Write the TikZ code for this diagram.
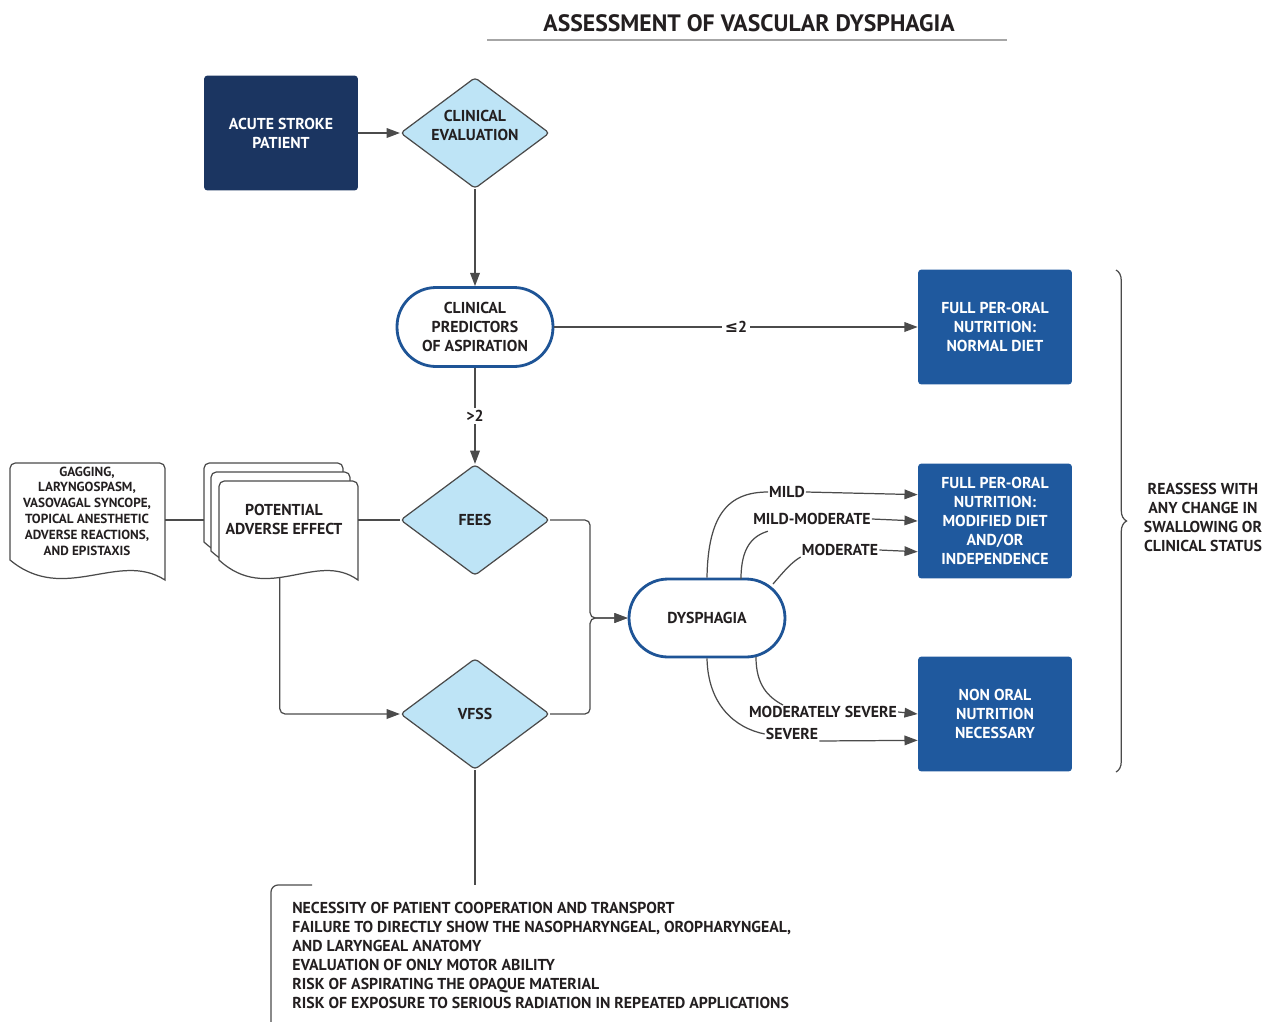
\documentclass[tikz,border=0pt]{standalone}
\usepackage{fontspec}
\setmainfont{PT Sans}
\newfontfamily\symfont{DejaVu Sans}
\usetikzlibrary{shapes.geometric,arrows.meta,decorations.pathreplacing}
\definecolor{navy}{RGB}{27,53,97}
\definecolor{boxblue}{RGB}{31,89,158}
\definecolor{pale}{RGB}{190,228,246}
\definecolor{rim}{RGB}{30,84,150}
\definecolor{ink}{RGB}{35,31,32}
\definecolor{wire}{RGB}{75,75,75}
\tikzset{
  docline/.style={draw=wire,line width=0.7pt,fill=white},
  pics/docshape/.style args={#1/#2}{code={
    \draw[docline] (0,#2-20) {[rounded corners=3pt] -- (0,0) -- (#1,0)} -- (#1,#2)
      .. controls (0.7*#1,#2-30) and (0.35*#1,#2+25) .. (0,#2-20) coordinate[pos=.58] (-s) -- cycle;
    \coordinate (-nw) at (0,0);
    \coordinate (-ne) at (#1,0);
  }}
}
\begin{document}
\begin{tikzpicture}[x=0.02cm,y=-0.02cm,>={Triangle[length=7.5pt,width=5.5pt]},
  every node/.style={font=\bfseries\fontsize{9}{10.8}\selectfont,text=ink},
  start/.style={rectangle,rounded corners=2pt,fill=navy,text=white,minimum width=3.08cm,minimum height=2.3cm,align=center},
  outcome/.style={rectangle,rounded corners=2pt,fill=boxblue,text=white,minimum width=3.08cm,minimum height=2.3cm,align=center},
  decision/.style={diamond,aspect=1.34,draw=wire,line width=0.7pt,fill=pale,rounded corners=2pt,minimum width=2.98cm,minimum height=2.22cm,inner sep=0pt,align=center},
  stadium/.style={rectangle,rounded corners=0.78cm,draw=rim,line width=1.6pt,fill=white,minimum width=3.12cm,minimum height=1.58cm,align=center},
  lbl/.style={fill=white,inner sep=1.5pt},
  grade/.style={inner sep=0.5pt},
  link/.style={draw=wire,line width=0.7pt}]
\useasboundingbox (0,0) rectangle (1276,1022);
\node (title) at (749,23) {\fontsize{13.5}{16}\selectfont ASSESSMENT OF VASCULAR DYSPHAGIA};
\draw[draw=gray!70,line width=1.1pt] (487,40) -- (1007,40);

\node[start] (asp) at (281,133) {ACUTE STROKE\\PATIENT};
\node[decision,text depth=9pt] (ce) at (475,133) {CLINICAL\\EVALUATION};
\node[stadium] (cpa) at (475,327) {CLINICAL\\PREDICTORS\\OF ASPIRATION};
\node[outcome] (nd) at (995,327) {FULL PER-ORAL\\NUTRITION:\\NORMAL DIET};
\node[decision] (fees) at (475,520) {FEES};
\node[decision] (vfss) at (475,714) {VFSS};
\node[stadium,minimum height=1.56cm] (dys) at (707,618) {DYSPHAGIA};
\node[outcome] (mod) at (995,521) {FULL PER-ORAL\\NUTRITION:\\MODIFIED DIET\\AND/OR\\INDEPENDENCE};
\node[outcome] (non) at (995,714) {NON ORAL\\NUTRITION\\NECESSARY};

\pic (gagdoc) at (10,463) {docshape=155/117};
\node[align=center,font=\bfseries\fontsize{7.5}{9}\selectfont] (gag) at (87,511)
  {GAGGING,\\LARYNGOSPASM,\\VASOVAGAL SYNCOPE,\\TOPICAL ANESTHETIC\\ADVERSE REACTIONS,\\AND EPISTAXIS};
\pic (pae1) at (204,463) {docshape=139/99};
\pic (pae2) at (211,472) {docshape=139/99};
\pic (pae3) at (219,481) {docshape=139/99};
\node[align=center] (pae) at (284,519) {POTENTIAL\\ADVERSE EFFECT};

\draw[link,->] (asp) -- (ce);
\draw[link,->] (ce) -- (cpa);
\draw[link,->] (cpa) -- node[lbl] {{\symfont\bfseries ≤}2} (nd);
\draw[link,->] (cpa) -- node[lbl] {>2} (fees);
\draw[link] (gagdoc-ne |- fees) -- (pae1-nw |- fees);
\draw[link] (pae3-ne |- fees) -- (fees.west);
\draw[link,->,rounded corners=3pt] (pae3-s) |- (vfss.west);
\draw[link,->,rounded corners=3pt] (fees.east) -- ++(40,0) |- (dys.west);
\draw[link,->,rounded corners=3pt] (vfss.east) -- ++(40,0) |- (dys.west);

\node[grade] (mild) at (787,492) {MILD};
\node[grade] (mm) at (812,519) {MILD-MODERATE};
\node[grade] (mo) at (840,550) {MODERATE};
\node[grade] (ms) at (823,712) {MODERATELY SEVERE};
\node[grade] (sev) at (792,734) {SEVERE};
\coordinate (d2) at (741,579);
\coordinate (d3) at (773,584);
\coordinate (d4) at (756,657);
\draw[link] (dys.north) .. controls (708,515) and (728,492) .. (mild.west);
\draw[link] (d2) .. controls (741,548) and (752,536) .. ([xshift=9pt,yshift=-3pt]mm.south west);
\draw[link] (d3) .. controls (785,570) and (792,562) .. (mo.south west);
\draw[link] (d4) .. controls (756,685) and (768,697) .. ([xshift=20pt]ms.north west);
\draw[link] (dys.south) .. controls (708,705) and (735,728) .. (sev.west);
\draw[link,->] (mild.east) -- ([yshift=15pt]mod.west);
\draw[link,->] (mm.east) -- (mod.west);
\draw[link,->] (mo.east) -- ([yshift=-17.5pt]mod.west);
\draw[link,->] (ms.east) -- (non.west);
\draw[link,->] (sev.south east) -- ([yshift=-15pt]non.west);

\draw[link,decorate,decoration={brace,amplitude=6pt}] (1116,270) -- (1116,772);
\node[align=center] (re) at (1203,517) {REASSESS WITH\\ANY CHANGE IN\\SWALLOWING OR\\CLINICAL STATUS};

\coordinate (lim) at (475,885);
\draw[link] (vfss.south) -- (lim);
\draw[link,rounded corners=4pt] (312,885) -- (271,885) -- (271,1022);
\node[anchor=north west,align=left,inner sep=0pt] (cons) at (292,902)
  {NECESSITY OF PATIENT COOPERATION AND TRANSPORT\\
   FAILURE TO DIRECTLY SHOW THE NASOPHARYNGEAL, OROPHARYNGEAL,\\
   AND LARYNGEAL ANATOMY\\
   EVALUATION OF ONLY MOTOR ABILITY\\
   RISK OF ASPIRATING THE OPAQUE MATERIAL\\
   RISK OF EXPOSURE TO SERIOUS RADIATION IN REPEATED APPLICATIONS};
\end{tikzpicture}
\end{document}
